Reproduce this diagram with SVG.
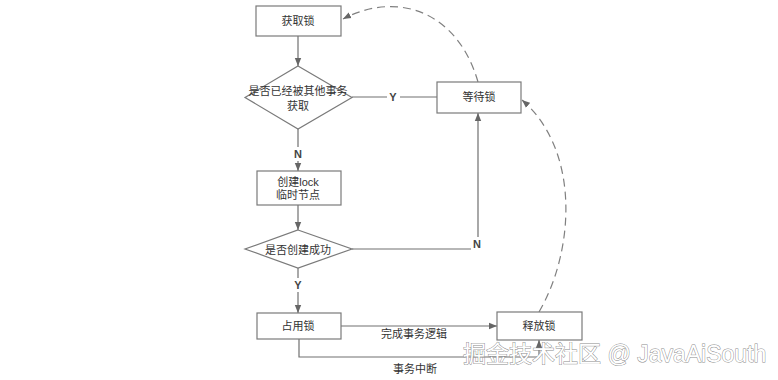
<svg xmlns="http://www.w3.org/2000/svg" width="778" height="380" viewBox="0 0 778 380">
<defs>
<style>
.box{fill:#fff;stroke:#7a7a7a;stroke-width:1.2}
.t{font-family:"Liberation Sans","Noto Sans CJK SC",sans-serif;font-size:11px;fill:#333;text-anchor:middle;dominant-baseline:central}
.lb{font-family:"Liberation Sans",sans-serif;font-size:11px;font-weight:bold;fill:#444;text-anchor:middle;dominant-baseline:central}
.ln{fill:none;stroke:#707070;stroke-width:1.2}
.dash{fill:none;stroke:#808080;stroke-width:1.2;stroke-dasharray:8 5}
.wm{font-family:"Liberation Sans","Noto Sans CJK SC",sans-serif;font-size:23px;fill:#fff;stroke:#8a8a8a;stroke-width:0.9;paint-order:stroke}
</style>
<marker id="ah" viewBox="0 0 10 10" refX="10" refY="5" markerWidth="8" markerHeight="8" markerUnits="userSpaceOnUse" orient="auto">
<path d="M0,1 L10,5 L0,9 Z" fill="#666"/>
</marker>
</defs>
<rect width="778" height="380" fill="#fff"/>
<g id="connectors">
<path class="ln" d="M298,36 V66" marker-end="url(#ah)"/>
<path class="ln" d="M298,129 V171" marker-end="url(#ah)"/>
<path class="ln" d="M352,97 H437"/>
<path class="ln" d="M298,205 V230" marker-end="url(#ah)"/>
<path class="ln" d="M352,249 H478 V113" marker-end="url(#ah)"/>
<path class="ln" d="M298,268 V313" marker-end="url(#ah)"/>
<path class="ln" d="M341,326 H497" marker-end="url(#ah)"/>
<path class="ln" d="M299,339 V357 H539 V340" marker-end="url(#ah)"/>
<path class="dash" d="M478,82 C458,12 398,-10 343,19" marker-end="url(#ah)"/>
<path class="dash" d="M539,312 C575,250 580,150 522,100" marker-end="url(#ah)"/>
<rect x="387" y="90" width="13" height="14" fill="#fff"/>
<text class="lb" x="393" y="97">Y</text>
<rect x="292" y="147" width="12" height="14" fill="#fff"/>
<text class="lb" x="298" y="154">N</text>
<rect x="292" y="278" width="12" height="14" fill="#fff"/>
<text class="lb" x="298" y="285">Y</text>
<rect x="471" y="237" width="12" height="14" fill="#fff"/>
<text class="lb" x="477" y="244">N</text>
<text class="t" x="414" y="334">完成事务逻辑</text>
<text class="t" x="415" y="369">事务中断</text>
</g>
<g id="n1"><rect class="box" x="256" y="6" width="85" height="30"/><text class="t" x="298" y="21">获取锁</text></g>
<g id="n2"><path class="box" d="M298,66 L352,97.5 L298,129 L245,97.5 Z"/><text class="t" x="298" y="91">是否已经被其他事务</text><text class="t" x="298" y="106">获取</text></g>
<g id="n3"><rect class="box" x="437" y="82" width="84" height="31"/><text class="t" x="479" y="97">等待锁</text></g>
<g id="n4"><rect class="box" x="257" y="171" width="84" height="34"/><text class="t" x="298" y="182">创建lock</text><text class="t" x="298" y="195">临时节点</text></g>
<g id="n5"><path class="box" d="M298,230 L352,249 L298,268 L245,249 Z"/><text class="t" x="298" y="250">是否创建成功</text></g>
<g id="n6"><rect class="box" x="257" y="313" width="84" height="26"/><text class="t" x="298" y="326">占用锁</text></g>
<g id="n7"><rect class="box" x="497" y="312" width="85" height="28"/><text class="t" x="539" y="326">释放锁</text></g>
<text class="wm" x="463" y="362">掘金技术社区 @ JavaAiSouth</text>
</svg>
